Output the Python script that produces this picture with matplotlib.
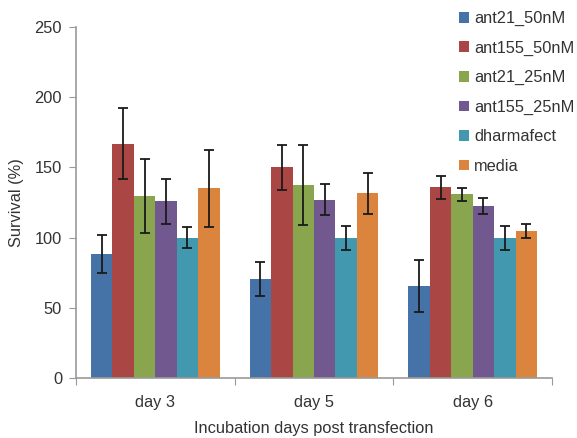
import matplotlib
matplotlib.use("Agg")
import matplotlib.pyplot as plt
import numpy as np

plt.rcParams['font.family'] = ['Liberation Sans', 'DejaVu Sans']

categories = ["day 3", "day 5", "day 6"]
series_names = ["ant21_50nM", "ant155_50nM", "ant21_25nM", "ant155_25nM", "dharmafect", "media"]
ant21_50nM = [88, 70.5, 65.5]
ant155_50nM = [167, 150, 136]
ant21_25nM = [129.5, 137.5, 131]
ant155_25nM = [126, 127, 122.5]
dharmafect = [100, 100, 100]
media = [135, 131.5, 104.5]
err_ant21_50nM = [13.5, 12, 18.5]
err_ant155_50nM = [25.5, 16, 8.2]
err_ant21_25nM = [26.5, 28.5, 4.6]
err_ant155_25nM = [16, 11, 6]
err_dharmafect = [7.5, 8.5, 8.5]
err_media = [27.5, 14.5, 5]
yticks = [0, 50, 100, 150, 200, 250]

values = [ant21_50nM, ant155_50nM, ant21_25nM, ant155_25nM, dharmafect, media]
errors = [err_ant21_50nM, err_ant155_50nM, err_ant21_25nM, err_ant155_25nM, err_dharmafect, err_media]
colors = ["#4572A7", "#AA4643", "#89A54E", "#71588F", "#4198AF", "#DB843D"]

fig = plt.figure(figsize=(5.77, 4.38), dpi=100)
ax = fig.add_axes([76/577, 60/438, (552-76)/577, (378-27)/438])

n = len(values)
group_w = 0.81
bw = group_w / n
x = np.arange(len(categories))
for i, (v, e, c, name) in enumerate(zip(values, errors, colors, series_names)):
    pos = x - group_w/2 + bw*(i+0.5)
    ax.bar(pos, v, width=bw, color=c, label=name, zorder=2)
    ax.errorbar(pos, v, yerr=e, fmt='none', ecolor='#1a1a1a', elinewidth=1.3,
                capsize=3.5, capthick=1.3, zorder=3)

fs = 11.8
ax.set_xlim(-0.5, len(categories)-0.5)
ax.set_ylim(0, 250)
ax.set_yticks(yticks)
ax.set_xticks(np.arange(-0.5, len(categories)), minor=False)
ax.set_xticklabels([])
ax.set_xticks(x, minor=True)
ax.set_xticklabels(categories, minor=True)
ax.tick_params(axis='x', which='minor', length=0, pad=12.5, labelsize=fs, colors='#333333')
ax.tick_params(axis='x', which='major', length=5, color='#999999')
ax.tick_params(axis='y', length=5, pad=5, color='#999999', labelsize=fs, labelcolor='#333333')
for s in ['top', 'right']:
    ax.spines[s].set_visible(False)
for s in ['left', 'bottom']:
    ax.spines[s].set_color('#999999')
    ax.spines[s].set_linewidth(1.2)

ax.set_xlabel("Incubation days post transfection", fontsize=fs, color='#333333', labelpad=8)
ax.set_ylabel("Survival (%)", fontsize=fs, color='#333333', labelpad=8)

leg = fig.legend(loc='upper left', bbox_to_anchor=(459/577, 1 - 11/438), frameon=False,
                 fontsize=fs, handlelength=0.62, handleheight=0.62, handletextpad=0.3,
                 labelspacing=0.88, borderpad=0, borderaxespad=0)
for t in leg.get_texts():
    t.set_color('#333333')

fig.savefig("out.png", dpi=100)
